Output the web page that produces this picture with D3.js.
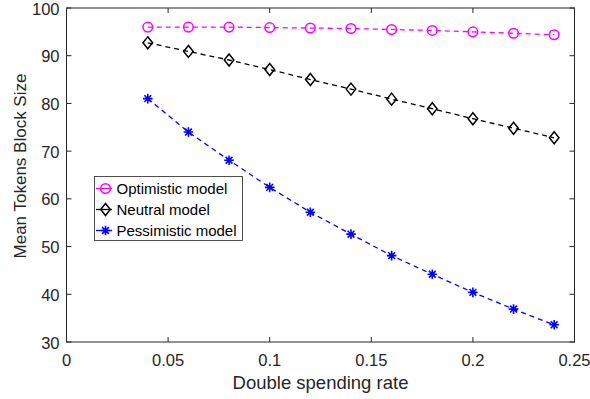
<!DOCTYPE html>
<html><head><meta charset="utf-8">
<script src="https://cdn.jsdelivr.net/npm/d3@7"></script>
<style>body{margin:0;background:#fff}svg{display:block}text{font-family:"Liberation Sans",Arial,sans-serif}</style>
</head><body><svg id="c" width="590" height="399"></svg>
<script>
const xs = [0.04,0.06,0.08,0.10,0.12,0.14,0.16,0.18,0.20,0.22,0.24];
const optimistic = [96.0,96.0,96.0,95.9,95.8,95.7,95.5,95.3,95.0,94.7,94.4];
const neutral = [92.7,90.9,89.1,87.1,85.0,83.0,80.9,78.9,76.8,74.8,72.8];
const pessimistic = [81.0,74.0,68.1,62.4,57.2,52.6,48.1,44.2,40.4,36.9,33.6];
const xTicks = [0,0.05,0.1,0.15,0.2,0.25];
const xTickLabels = ["0","0.05","0.1","0.15","0.2","0.25"];
const yTicks = [30,40,50,60,70,80,90,100];
const seriesNames = ["Optimistic model","Neutral model","Pessimistic model"];
const seriesColors = ["#ff00ff","#000000","#0000ff"];
const seriesMarkers = ["circle","diamond","asterisk"];

const svg = d3.select("#c");
const L=66.5,R=574.5,T=8,B=342;
const x = d3.scaleLinear().domain([0,0.25]).range([L,R]);
const y = d3.scaleLinear().domain([30,100]).range([B,T]);
const ax="#262626";

svg.append("rect").attr("x",L).attr("y",T).attr("width",R-L).attr("height",B-T).attr("fill","#fff");

const g = svg.append("g");
xTicks.forEach((t,i)=>{
  const px=x(t);
  g.append("line").attr("x1",px).attr("x2",px).attr("y1",B).attr("y2",B-5).attr("stroke",ax);
  g.append("line").attr("x1",px).attr("x2",px).attr("y1",T).attr("y2",T+5).attr("stroke",ax);
  g.append("text").attr("x",px).attr("y",B+24).attr("text-anchor","middle").attr("font-size",16.5).attr("fill",ax).text(xTickLabels[i]);
});
yTicks.forEach(t=>{
  const py=y(t);
  g.append("line").attr("x1",L).attr("x2",L+5).attr("y1",py).attr("y2",py).attr("stroke",ax);
  g.append("line").attr("x1",R).attr("x2",R-5).attr("y1",py).attr("y2",py).attr("stroke",ax);
  g.append("text").attr("x",L-7).attr("y",py+6.5).attr("text-anchor","end").attr("font-size",16.5).attr("fill",ax).text(t);
});
svg.append("rect").attr("x",L).attr("y",T).attr("width",R-L).attr("height",B-T).attr("fill","none").attr("stroke",ax).attr("stroke-width",1);

svg.append("text").attr("x",(L+R)/2).attr("y",389).attr("text-anchor","middle").attr("font-size",18.5).attr("fill",ax).text("Double spending rate");
svg.append("text").attr("transform",`translate(26,166) rotate(-90)`).attr("text-anchor","middle").attr("font-size",17).attr("fill",ax).text("Mean Tokens Block Size");

function marker(sel,type,cx,cy,color){
  if(type==="circle"){
    sel.append("circle").attr("cx",cx).attr("cy",cy).attr("r",4.8).attr("fill","none").attr("stroke",color).attr("stroke-width",1.5);
  } else if(type==="diamond"){
    const s=6;
    sel.append("path").attr("d",`M${cx},${cy-s}L${cx+s*0.8},${cy}L${cx},${cy+s}L${cx-s*0.8},${cy}Z`).attr("fill","none").attr("stroke",color).attr("stroke-width",1.5);
  } else {
    const s=4.8;
    let d="";
    [0,45,90,135].forEach(a=>{const r=a*Math.PI/180;d+=`M${cx-s*Math.cos(r)},${cy-s*Math.sin(r)}L${cx+s*Math.cos(r)},${cy+s*Math.sin(r)}`;});
    sel.append("path").attr("d",d).attr("stroke",color).attr("stroke-width",1.6);
  }
}

const allData=[optimistic,neutral,pessimistic];
allData.forEach((vals,k)=>{
  const pts=xs.map((v,i)=>[v,vals[i]]);
  svg.append("path").datum(pts).attr("d",d3.line().x(d=>x(d[0])).y(d=>y(d[1])))
    .attr("fill","none").attr("stroke",seriesColors[k]).attr("stroke-width",1.3).attr("stroke-dasharray","5,4");
  const mg=svg.append("g");
  pts.forEach(p=>marker(mg,seriesMarkers[k],x(p[0]),y(p[1]),seriesColors[k]));
});

const lg=svg.append("g");
lg.append("rect").attr("x",94.5).attr("y",176.5).attr("width",148).attr("height",64).attr("fill","#fff").attr("stroke",ax).attr("stroke-width",0.8);
seriesNames.forEach((n,k)=>{
  const cy=188.5+k*21;
  lg.append("line").attr("x1",96).attr("x2",112).attr("y1",cy).attr("y2",cy).attr("stroke",seriesColors[k]).attr("stroke-width",1.3);
  marker(lg,seriesMarkers[k],105.5,cy,seriesColors[k]);
  lg.append("text").attr("x",116.5).attr("y",cy+5.5).attr("font-size",15).attr("fill","#000").text(n);
});
</script></body></html>
